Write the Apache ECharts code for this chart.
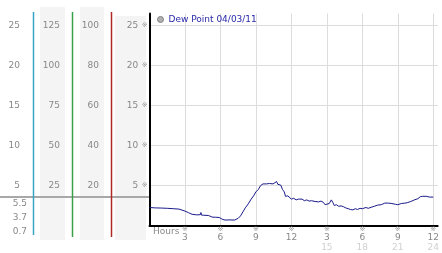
<!DOCTYPE html>
<html><head><meta charset="utf-8">
<script src="https://cdn.jsdelivr.net/npm/echarts@6/dist/echarts.min.js"></script>
<style>html,body{margin:0;padding:0;background:#fff}#c{width:442px;height:253px}</style>
</head><body><div id="c"></div>
<script>
// ---- data ----
const seriesName = 'Dew Point 04/03/11';
const hours = [0.0,0.5,1.0,1.5,2.0,2.5,3.0,3.3,3.6,4.0,4.3,4.35,4.4,4.6,5.0,5.3,5.6,5.9,6.2,6.4,6.8,7.2,7.5,7.7,7.9,8.1,8.35,8.6,8.8,9.0,9.2,9.4,9.6,9.75,9.9,10.0,10.15,10.3,10.45,10.6,10.75,10.85,11.0,11.1,11.25,11.4,11.5,11.7,11.85,12.0,12.2,12.4,12.6,12.75,12.9,13.1,13.3,13.5,13.7,13.85,14.0,14.3,14.5,14.7,14.85,15.0,15.2,15.38,15.5,15.63,15.8,16.0,16.2,16.4,16.6,16.8,17.0,17.2,17.4,17.6,17.8,18.0,18.3,18.5,18.8,19.0,19.3,19.6,19.9,20.2,20.5,20.8,21.0,21.3,21.6,21.8,22.1,22.4,22.7,22.9,23.1,23.4,23.7,24.0];
const dewPoint = [2.25,2.2,2.18,2.15,2.1,2.05,1.8,1.6,1.4,1.33,1.35,1.62,1.3,1.28,1.25,1.05,1.03,1.0,0.75,0.68,0.7,0.68,0.9,1.2,1.7,2.2,2.7,3.3,3.7,4.2,4.5,5.0,5.2,5.35,5.2,5.35,5.25,5.45,5.2,5.4,5.5,5.15,4.9,5.05,4.5,4.2,3.65,3.7,3.45,3.3,3.4,3.2,3.3,3.15,3.3,3.1,3.2,3.05,3.1,3.35,3.0,2.95,3.05,2.9,2.6,2.85,2.75,3.2,2.9,2.5,2.6,2.4,2.45,2.35,2.2,2.1,2.0,1.95,2.1,2.0,2.15,2.1,2.25,2.15,2.3,2.4,2.55,2.6,2.8,2.8,2.75,2.65,2.6,2.75,2.8,2.85,3.0,3.2,3.35,3.6,3.65,3.65,3.55,3.55];
const xTicks = [3,6,9,12,15,18,21,24];
const xTickTop = ['3','6','9','12','3','6','9','12'];
const xTickBottom = ['','','','','15','18','21','24'];
const xAxisTitle = 'Hours';
const statLabels = ['5.5','3.7','0.7'];
const scaleFactors = [1,5,4]; // left reference scales
const scaleSteps = [5,25,20];

// ---- chart ----
const FONT = 'DejaVu Sans';
const yMax = 26.5, xMax = 24.375;
const chart = echarts.init(document.getElementById('c'), null, {renderer:'canvas'});
const data = hours.map((h,i)=>[h, dewPoint[i]]);

function sideAxis(idx, offset){
  return {
    type:'value', gridIndex:0, position:'left', offset:offset,
    min:0, max:yMax*scaleFactors[idx], interval:scaleSteps[idx],
    axisLine:{show:false}, axisTick:{show:false}, splitLine:{show:false},
    axisLabel:{margin:0, color:'#888', fontFamily:FONT, fontSize:9, showMaxLabel:false,
      formatter:v=> v===0?'':String(v)}
  };
}

const option = {
  animation:false,
  backgroundColor:'#fff',
  grid:{left:149.5, right:0, top:13.5, bottom:27.5},
  legend:{show:true, left:157, top:15, padding:0, icon:'circle', itemWidth:6, itemHeight:6,
    itemStyle:{color:'#b0b0b0', borderColor:'#808080', borderWidth:1},
    textStyle:{color:'#2828a8', fontFamily:FONT, fontSize:9},
    data:[seriesName]},
  xAxis:{type:'value', min:0, max:xMax, interval:3,
    axisLine:{lineStyle:{color:'#000', width:2}},
    axisTick:{show:false},
    splitLine:{show:true, showMinLine:false, showMaxLine:false, lineStyle:{color:'#dcdcdc', width:1}},
    axisLabel:{margin:0, showMaxLabel:false, showMinLabel:false,
      formatter:v=>{
        const i = xTicks.indexOf(v);
        if(i<0) return '';
        let s = '{s|※}\n{n|'+xTickTop[i]+'}';
        if(xTickBottom[i]) s += '\n{g|'+xTickBottom[i]+'}';
        return s;
      },
      rich:{
        s:{fontSize:7, lineHeight:8, color:'#999', fontFamily:FONT},
        n:{fontSize:9, lineHeight:9, color:'#888', fontFamily:FONT},
        g:{fontSize:9, lineHeight:10, color:'#d0d0d0', fontFamily:FONT}
      }}
  },
  yAxis:[
    {type:'value', min:0, max:yMax, interval:5,
      axisLine:{show:true, lineStyle:{color:'#000', width:2}},
      axisTick:{show:false},
      splitLine:{show:true, showMinLine:false, showMaxLine:false, lineStyle:{color:'#dcdcdc', width:1}},
      axisLabel:{margin:2, showMaxLabel:false,
        formatter:v=> v===0?'':'{v|'+v+'} {s|※}',
        rich:{v:{fontSize:9, color:'#888', fontFamily:FONT}, s:{fontSize:7, color:'#999', fontFamily:FONT}}}
    },
    sideAxis(0,129.5),
    sideAxis(1,89.5),
    sideAxis(2,50.5)
  ],
  series:[{
    name:seriesName, type:'line', data:data, showSymbol:false, symbol:'circle',
    itemStyle:{color:'#b0b0b0'},
    lineStyle:{color:'#1a1a8a', width:1},
    emphasis:{disabled:true}, z:3
  }]
};
chart.setOption(option);

// reference decorations (backgrounds, coloured scale lines, current-value line)
const lastVal = dewPoint[dewPoint.length-1];
const yCur = chart.convertToPixel({yAxisIndex:0}, lastVal);
const g = [
  {type:'rect', shape:{x:40,y:7,width:25,height:233}, style:{fill:'#f4f4f4'}, z:-10},
  {type:'rect', shape:{x:80,y:7,width:24,height:233}, style:{fill:'#f4f4f4'}, z:-10},
  {type:'rect', shape:{x:115,y:16,width:31,height:224}, style:{fill:'#f4f4f4'}, z:-10},
  {type:'line', shape:{x1:0,y1:yCur,x2:149,y2:yCur}, style:{stroke:'#a8a8a8', lineWidth:2}, z:5},
  {type:'line', shape:{x1:33.5,y1:12,x2:33.5,y2:235}, style:{stroke:'#38a4c4', lineWidth:1.5}, z:6},
  {type:'line', shape:{x1:72.5,y1:12,x2:72.5,y2:237}, style:{stroke:'#38a048', lineWidth:1.5}, z:6},
  {type:'line', shape:{x1:111.5,y1:12,x2:111.5,y2:237}, style:{stroke:'#b02828', lineWidth:1.5}, z:6},
  {type:'text', x:153, y:232, style:{text:xAxisTitle, fill:'#888', font:'9px "'+FONT+'"', verticalAlign:'middle', align:'left'}, z:6}
];
statLabels.forEach((t,i)=>{
  g.push({type:'text', x:27, y:yCur+7+i*14, style:{text:t, fill:'#888', font:'9px "'+FONT+'"', verticalAlign:'middle', align:'right'}, z:6});
});
chart.setOption({graphic:g});
</script></body></html>
